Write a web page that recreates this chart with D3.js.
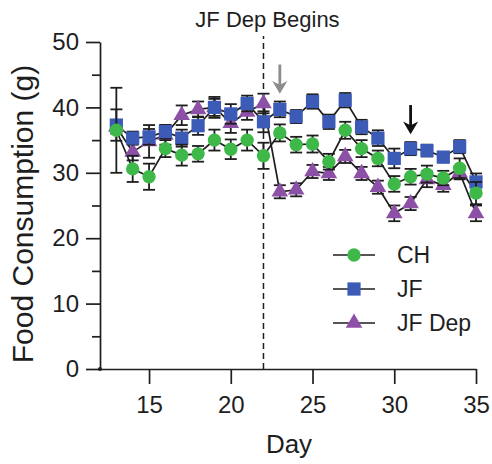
<!DOCTYPE html>
<html>
<head>
<meta charset="utf-8">
<script src="https://cdn.jsdelivr.net/npm/d3@7"></script>
<style>
  body { margin: 0; background: #fff; }
  text { font-family: "Liberation Sans", Arial, sans-serif; fill: #1e1e1e; }
</style>
</head>
<body>
<div id="chart"></div>
<script>
// Data (mean and SEM per day)
const days = [13, 14, 15, 16, 17, 18, 19, 20, 21, 22, 23, 24, 25, 26, 27, 28, 29, 30, 31, 32, 33, 34, 35];

const chMean = [36.5, 30.6, 29.4, 33.7, 32.7, 32.9, 35.0, 33.6, 35.0, 32.6, 36.1, 34.3, 34.4, 31.7, 36.5, 33.7, 32.2, 28.3, 29.4, 29.8, 29.2, 30.7, 26.9];
const chErr  = [6.5, 2.0, 2.0, 1.3, 1.6, 1.2, 1.6, 1.5, 1.6, 2.0, 1.3, 1.2, 1.3, 1.2, 1.3, 1.3, 1.2, 1.2, 1.2, 1.3, 1.1, 1.5, 1.7];

const jfMean = [37.3, 35.3, 35.5, 36.3, 35.3, 37.2, 40.0, 39.0, 40.6, 37.8, 39.7, 38.6, 40.9, 37.8, 41.1, 37.0, 35.3, 32.2, 33.7, 33.4, 32.4, 34.0, 28.6];
const jfErr  = [2.4, 1.0, 1.2, 1.0, 1.3, 1.4, 1.3, 1.5, 1.2, 1.6, 1.2, 1.0, 1.1, 1.1, 1.1, 1.1, 1.2, 1.5, 1.0, 0.9, 0.8, 1.0, 1.3];

const depMean = [37.0, 33.2, 34.8, 35.8, 38.8, 39.7, 40.0, 37.6, 39.3, 40.6, 27.1, 27.4, 30.2, 29.9, 32.5, 29.9, 27.8, 23.8, 25.3, 29.0, 28.1, 30.0, 23.8];
const depErr  = [1.0, 1.3, 2.5, 1.5, 1.5, 1.2, 1.6, 1.5, 1.2, 1.5, 1.0, 1.0, 1.0, 1.0, 1.0, 1.0, 1.0, 1.2, 1.0, 1.2, 1.0, 1.0, 1.2];

const seriesNames = ["CH", "JF", "JF Dep"];
const xTicks = [15, 20, 25, 30, 35];
const yTicks = [0, 10, 20, 30, 40, 50];
const yMinorTicks = [5, 15, 25, 35, 45];
const depStartDay = 22;
const arrowDays = [23, 31];

const series = [
    { name: seriesNames[0], mean: chMean, err: chErr, color: "#3fb84a", symbol: d3.symbolCircle, size: 140 },
    { name: seriesNames[1], mean: jfMean, err: jfErr, color: "#3b5bb7", symbol: d3.symbolSquare, size: 175 },
    { name: seriesNames[2], mean: depMean, err: depErr, color: "#8d50a7", symbol: d3.symbolTriangle, size: 120 }
];

const width = 492, height = 464;
const margin = { top: 42, right: 16, bottom: 95, left: 100 };

const svg = d3.select("#chart")
              .append("svg")
              .attr("width", width)
              .attr("height", height);

const x = d3.scaleLinear()
            .domain([12, 35])
            .range([margin.left, width - margin.right]);

const y = d3.scaleLinear()
            .domain([0, 50])
            .range([height - margin.bottom, margin.top]);

// Axes
svg.append("g")
   .attr("transform", `translate(${margin.left},0)`)
   .call(d3.axisLeft(y).tickValues(yTicks).tickSize(14).tickPadding(7).tickSizeOuter(0));

svg.append("g")
   .attr("transform", `translate(${margin.left},0)`)
   .call(d3.axisLeft(y).tickValues(yMinorTicks).tickSize(8).tickFormat("").tickSizeOuter(0))
   .select(".domain").remove();

svg.append("g")
   .attr("transform", `translate(0,${y(0)})`)
   .call(d3.axisBottom(x).tickValues(xTicks).tickSize(15).tickPadding(12).tickSizeOuter(0));

svg.selectAll(".tick text")
   .style("font-size", "24px")
   .style("font-family", "'Liberation Sans', Arial, sans-serif");
svg.selectAll(".domain, .tick line")
   .attr("stroke", "#1e1e1e")
   .attr("stroke-width", 1.7);

svg.append("circle")
   .attr("cx", x(12))
   .attr("cy", y(0))
   .attr("r", 2)
   .attr("fill", "#1e1e1e");

// Dashed line where deprivation begins
svg.append("line")
   .attr("x1", x(depStartDay))
   .attr("x2", x(depStartDay))
   .attr("y1", y(0))
   .attr("y2", 36)
   .attr("stroke", "#1e1e1e")
   .attr("stroke-width", 1.5)
   .attr("stroke-dasharray", "6,4");

svg.append("text")
   .attr("x", x(depStartDay) + 4)
   .attr("y", 27)
   .attr("text-anchor", "middle")
   .style("font-size", "22px")
   .text("JF Dep Begins");

// Lines, error bars and markers; draw JF Dep first so CH ends up on top
const drawOrder = [series[2], series[1], series[0]];

drawOrder.forEach(s => {
    const pts = days.map((d, i) => ({ day: d, mean: s.mean[i], err: s.err[i] }));

    const line = d3.line()
                   .x(d => x(d.day))
                   .y(d => y(d.mean));

    svg.append("path")
       .datum(pts)
       .attr("fill", "none")
       .attr("stroke", "#1e1e1e")
       .attr("stroke-width", 1.7)
       .attr("d", line);
});

drawOrder.forEach(s => {
    const pts = days.map((d, i) => ({ day: d, mean: s.mean[i], err: s.err[i] }));
    const g = svg.append("g");

    const eb = g.selectAll(".eb")
                .data(pts)
                .join("g")
                .attr("stroke", "#1e1e1e")
                .attr("stroke-width", 1.8);

    eb.append("line")
      .attr("x1", d => x(d.day)).attr("x2", d => x(d.day))
      .attr("y1", d => y(d.mean - d.err)).attr("y2", d => y(d.mean + d.err));
    eb.append("line")
      .attr("x1", d => x(d.day) - 6).attr("x2", d => x(d.day) + 6)
      .attr("y1", d => y(d.mean + d.err)).attr("y2", d => y(d.mean + d.err));
    eb.append("line")
      .attr("x1", d => x(d.day) - 6).attr("x2", d => x(d.day) + 6)
      .attr("y1", d => y(d.mean - d.err)).attr("y2", d => y(d.mean - d.err));

    g.selectAll(".pt")
     .data(pts)
     .join("path")
     .attr("transform", d => `translate(${x(d.day)},${y(d.mean)})`)
     .attr("d", d3.symbol().type(s.symbol).size(s.size))
     .attr("fill", s.color);
});

// Arrows above the JF points
const arrowColors = ["#8c8c8c", "#111111"];
arrowDays.forEach((day, k) => {
    const i = days.indexOf(day);
    const tip = y(jfMean[i] + jfErr[i]) - 9;
    const tail = tip - 28;
    const cx = x(day);
    svg.append("line")
       .attr("x1", cx).attr("x2", cx)
       .attr("y1", tail).attr("y2", tip - 6)
       .attr("stroke", arrowColors[k])
       .attr("stroke-width", 2.8);
    svg.append("path")
       .attr("d", `M${cx - 6},${tip - 10} L${cx},${tip} L${cx + 6},${tip - 10} L${cx},${tip - 7} Z`)
       .attr("fill", arrowColors[k])
       .attr("stroke", arrowColors[k])
       .attr("stroke-width", 1.2)
       .attr("stroke-linejoin", "miter");
});

// Axis titles
svg.append("text")
   .attr("x", (x(12) + x(35)) / 2 + 1)
   .attr("y", 453)
   .attr("text-anchor", "middle")
   .style("font-size", "26px")
   .text("Day");

svg.append("text")
   .attr("transform", `translate(33,${214}) rotate(-90)`)
   .attr("text-anchor", "middle")
   .style("font-size", "30px")
   .text("Food Consumption (g)");

// Legend
const legend = svg.append("g")
                  .selectAll("g")
                  .data(series)
                  .join("g")
                  .attr("transform", (d, i) => `translate(333,${255 + i * 34})`);

legend.append("line")
      .attr("x1", 0).attr("x2", 42)
      .attr("stroke", "#1e1e1e")
      .attr("stroke-width", 1.7);

legend.append("path")
      .attr("transform", "translate(21,0)")
      .attr("d", d => d3.symbol().type(d.symbol).size(d.size)())
      .attr("fill", d => d.color);

legend.append("text")
      .attr("x", 64)
      .attr("y", 8)
      .style("font-size", "23px")
      .text(d => d.name);
</script>
</body>
</html>
